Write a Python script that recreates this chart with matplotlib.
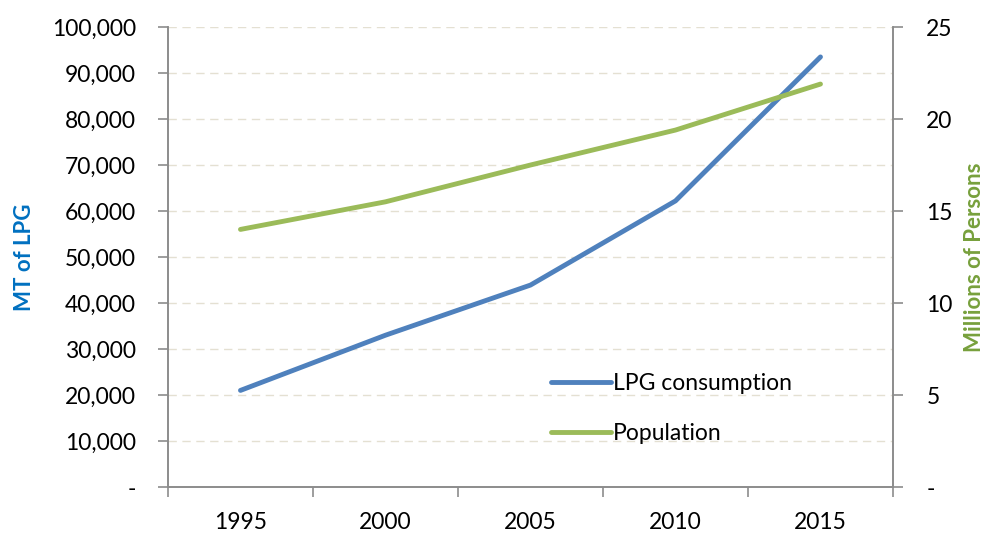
import matplotlib.pyplot as plt
from matplotlib.ticker import FuncFormatter

years = ['1995', '2000', '2005', '2010', '2015']
lpg = [21000, 33000, 43900, 62200, 93500]
population = [14.0, 15.5, 17.5, 19.4, 21.9]

plt.rcParams['font.family'] = ['Lato', 'DejaVu Sans']

fig = plt.figure(figsize=(9.84, 5.33), dpi=100)
ax = fig.add_axes([0.1707, 0.0863, 0.7368, 0.863])
ax2 = ax.twinx()

x = list(range(len(years)))
l1, = ax.plot(x, lpg, color='#4F81BD', lw=3.5, solid_capstyle='round', label='LPG consumption')
l2, = ax2.plot(x, population, color='#9BBB59', lw=3.5, solid_capstyle='round', label='Population')

# category axis: ticks between categories, labels at centres
ax.set_xlim(-0.5, len(years) - 0.5)
ax.set_xticks(x)
ax.set_xticklabels(years, fontsize=16.5)
ax.set_xticks([i - 0.5 for i in range(len(years) + 1)], minor=True)
ax.tick_params(axis='x', which='major', length=0, pad=18)
ax.tick_params(axis='x', which='minor', length=7, width=1.2, color='#8c8c8c')

ax.set_ylim(0, 100000)
ax.set_yticks(range(0, 100001, 10000))
ax.yaxis.set_major_formatter(FuncFormatter(lambda v, p: '-' if v == 0 else f'{int(v):,}'))
ax.tick_params(axis='y', length=7, width=1.2, color='#8c8c8c', labelsize=16.5, pad=16)
ax.grid(axis='y', color='#e4e0d2', linestyle=(0, (6, 4)), lw=1)
ax.set_axisbelow(True)

ax2.set_ylim(0, 25)
ax2.set_yticks(range(0, 26, 5))
ax2.yaxis.set_major_formatter(FuncFormatter(lambda v, p: '-' if v == 0 else f'{int(v)}'))
ax2.tick_params(axis='y', length=7, width=1.2, color='#8c8c8c', labelsize=16.5, pad=17)

for a in (ax, ax2):
    a.spines['top'].set_visible(False)
    for s in ('left', 'right', 'bottom'):
        a.spines[s].set_color('#8c8c8c')
        a.spines[s].set_linewidth(1.2)

ax.set_ylabel('MT of LPG', color='#0070C0', fontsize=16, fontweight='bold', labelpad=12)
ax2.set_ylabel('Millions of Persons', color='#77A03C', fontsize=16, fontweight='bold', labelpad=8)

ax.legend(handles=[l1, l2], loc='upper left', bbox_to_anchor=(0.5, 0.292), frameon=False,
          fontsize=16.5, handlelength=2.6, handletextpad=0.1, labelspacing=1.25)

fig.savefig('out.png', dpi=100)
